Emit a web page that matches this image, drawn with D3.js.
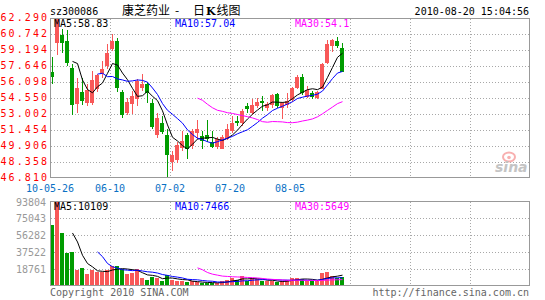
<!DOCTYPE html>
<html><head><meta charset="utf-8">
<script src="https://cdn.jsdelivr.net/npm/d3@7"></script>
<style>
body{margin:0;background:#fff}
svg text{font-family:"DejaVu Sans Mono",monospace;font-size:10px}
</style>
</head><body>
<svg id="chart" width="545" height="300"></svg>
<script>
// ---- data (59 trading days) ----
const openP  = [57.07,59.84,60.65,60.11,57.48,53.94,55.13,54.04,54.04,55.45,
                56.84,57.65,59.26,60.07,55.13,53.07,53.94,54.43,55.55,55.88,
                54.10,50.94,52.16,50.97,48.36,48.55,49.74,50.94,49.91,51.13,
                50.87,50.97,50.29,49.84,49.64,50.61,51.36,52.33,52.16,53.78,
                53.13,53.78,54.26,53.62,53.84,54.91,53.62,53.84,54.36,55.55,
                56.61,54.68,55.06,54.58,55.45,57.91,59.58,60.07,59.39];
const highP  = [58.55,62.29,61.23,61.13,57.81,56.51,56.51,55.88,57.16,56.84,
                58.13,59.75,60.71,60.38,55.32,54.58,55.23,56.36,56.84,56.10,
                54.48,53.13,52.81,51.52,49.42,50.29,51.36,51.19,51.52,52.42,
                51.36,52.42,51.36,50.81,50.94,52.01,52.81,52.81,53.46,54.04,
                54.43,54.58,54.74,54.16,54.91,55.00,54.16,55.00,55.64,56.75,
                56.84,55.71,55.23,55.23,57.97,60.16,60.23,60.48,59.87];
const lowP   = [55.95,58.71,58.90,57.60,52.88,53.13,53.84,53.78,53.84,55.13,
                56.51,57.33,59.10,55.13,52.65,52.88,52.97,53.78,55.23,54.07,
                51.52,50.71,51.04,46.84,47.49,48.29,49.42,48.62,49.59,50.55,
                49.64,50.29,49.74,49.64,49.59,50.49,51.19,51.84,51.84,53.13,
                52.88,53.62,53.29,53.29,53.62,53.62,52.55,53.62,54.16,55.45,
                54.81,54.58,54.43,54.48,55.39,57.81,59.00,59.42,57.07];
const closeP = [56.58,62.24,59.90,57.89,53.84,55.55,54.26,55.32,56.29,56.75,
                57.39,58.93,60.07,55.55,52.88,54.16,54.74,56.20,55.88,55.00,
                51.77,52.64,51.26,49.08,49.00,49.97,50.39,49.64,51.36,51.52,
                50.39,50.58,49.84,50.55,50.81,51.52,52.16,52.16,53.29,53.46,
                53.84,54.16,54.04,53.94,54.81,53.78,54.04,54.26,55.55,56.61,
                55.06,55.32,54.68,55.13,57.81,59.75,60.16,59.58,57.11];
const volume = [67740,93804,58440,36100,37220,17490,19350,12650,17490,14890,
                14890,17490,21960,21590,18240,12650,13770,18240,8190,6330,
                10050,8190,5210,11910,6330,5210,4470,3720,4470,3720,
                2600,2600,2600,3350,5210,6330,8190,6330,10790,5210,
                8190,7070,4470,4470,5210,3720,4470,6330,8930,8930,
                7440,4470,4470,4470,13770,14890,10790,8190,10050];

const priceTicks = [62.290,60.742,59.194,57.646,56.098,54.550,53.002,51.454,49.906,48.358,46.810];
const volumeTicks = [93804,75043,56282,37522,18761];
const dateTickIdx = [0,12,24,36,48];
const dateLabels = ["10-05-26","06-10","07-02","07-20","08-05"];
const gridIdx = [12,24,36,48,60,72,84];
const maPeriods = [5,10,30];
const maColors = ["#000000","#0000ff","#ff00ff"];
const priceMaLabels = ["MA5:58.83","MA10:57.04","MA30:54.1"];
const volMaLabels = ["MA5:10109","MA10:7466","MA30:5649"];
const stockCode = "sz300086";
const titleParts = [{t:"康芝药业",x:122},{t:"-",x:175},{t:"日",x:193},{t:"K",x:206,b:true},{t:"线图",x:216.5}];
const timeStamp = "2010-08-20 15:04:56";
const footLeft = "Copyright 2010 SINA.COM";
const footRight = "http://finance.sina.com.cn";

const UP = "#f85858", DOWN = "#009c00";

const svg = d3.select("#chart");
svg.append("rect").attr("width",545).attr("height",300).attr("fill","#fff");

const N = closeP.length;
const x = d3.scaleLinear().domain([0,96]).range([50,530]);
const yP = d3.scaleLinear().domain([46.81,62.29]).range([178,18]);
const yV = d3.scaleLinear().domain([0,93804]).range([285.5,201.5]);
const idx = d3.range(N);

function movingAvg(arr,n){
  return arr.map((_,i)=> i<n-1 ? null : d3.mean(arr.slice(i-n+1,i+1)));
}

// ---- grids ----
function grid(top,bottom,hVals,yScale){
  const g = svg.append("g").attr("stroke","#a8a8a8").attr("stroke-dasharray","1,2").attr("shape-rendering","crispEdges");
  g.selectAll("line.h").data(hVals).join("line")
    .attr("x1",51).attr("x2",529)
    .attr("y1",d=>Math.round(yScale(d))+0.5).attr("y2",d=>Math.round(yScale(d))+0.5);
  g.selectAll("line.v").data(gridIdx).join("line")
    .attr("x1",d=>x(d)+0.5).attr("x2",d=>x(d)+0.5)
    .attr("y1",top).attr("y2",bottom);
}
grid(19,177,priceTicks.slice(1,-1),yP);
grid(202,285,volumeTicks.slice(1),yV);

// ---- watermark ----
const wm = svg.append("g");
wm.append("ellipse").attr("cx",509).attr("cy",157).attr("rx",6).attr("ry",4.5)
  .attr("fill","none").attr("stroke","#f8b0b0").attr("stroke-width",2);
wm.append("circle").attr("cx",509).attr("cy",157.5).attr("r",1.8).attr("fill","#f8b0b0");
wm.append("text").attr("x",495).attr("y",172).text("sina")
  .style("font-family","DejaVu Sans").style("font-size","14px").style("font-style","italic").style("font-weight","bold")
  .attr("fill","#c4c4c4");

// ---- candles ----
const cg = svg.append("g").attr("shape-rendering","crispEdges");
cg.selectAll("rect.wick").data(idx).join("rect")
  .attr("x",i=>x(i)+2).attr("width",1)
  .attr("y",i=>Math.round(yP(highP[i])))
  .attr("height",i=>Math.max(1,Math.round(yP(lowP[i]))-Math.round(yP(highP[i]))))
  .attr("fill",i=>closeP[i]>=openP[i]?UP:DOWN);
cg.selectAll("rect.body").data(idx).join("rect")
  .attr("x",i=>x(i)).attr("width",4)
  .attr("y",i=>Math.round(yP(Math.max(openP[i],closeP[i]))))
  .attr("height",i=>Math.max(1,Math.round(yP(Math.min(openP[i],closeP[i])))-Math.round(yP(Math.max(openP[i],closeP[i])))))
  .attr("fill",i=>closeP[i]>=openP[i]?UP:DOWN);

// ---- volume bars ----
svg.append("g").attr("shape-rendering","crispEdges")
  .selectAll("rect").data(idx).join("rect")
  .attr("x",i=>x(i)).attr("width",4)
  .attr("y",i=>Math.round(yV(volume[i])))
  .attr("height",i=>Math.max(1,285-Math.round(yV(volume[i]))))
  .attr("fill",i=>closeP[i]>=openP[i]?UP:DOWN);

// ---- moving average lines ----
maPeriods.forEach((p,k)=>{
  const mp = movingAvg(closeP,p).map((v,i)=>({i,v})).filter(d=>d.v!==null);
  svg.append("path").datum(mp).attr("fill","none").attr("stroke",maColors[k]).attr("stroke-width",1)
    .attr("d",d3.line().x(d=>x(d.i)+2.5).y(d=>yP(d.v)));
  const mv = movingAvg(volume,p).map((v,i)=>({i,v})).filter(d=>d.v!==null);
  svg.append("path").datum(mv).attr("fill","none").attr("stroke",maColors[k]).attr("stroke-width",1)
    .attr("d",d3.line().x(d=>x(d.i)+2.5).y(d=>yV(d.v)));
});

// ---- frames ----
svg.append("rect").attr("x",50.5).attr("y",18.5).attr("width",479).attr("height",159)
  .attr("fill","none").attr("stroke","#999").attr("shape-rendering","crispEdges");
svg.append("rect").attr("x",50.5).attr("y",201.5).attr("width",479).attr("height",84)
  .attr("fill","none").attr("stroke","#999").attr("shape-rendering","crispEdges");

// ---- axis labels ----
svg.append("g").selectAll("text").data(priceTicks).join("text")
  .attr("x",0.5).attr("y",d=>yP(d)+3.3)
  .attr("textLength",46.5).attr("lengthAdjust","spacing")
  .attr("fill","#ff0000").text(d=>d.toFixed(3));
svg.append("g").selectAll("text").data(volumeTicks).join("text")
  .attr("x",46).attr("y",d=>Math.round(yV(d))+3.8).attr("text-anchor","end")
  .attr("fill","#999").text(d=>d);
svg.append("g").selectAll("text").data(dateTickIdx).join("text")
  .attr("x",d=>x(d)).attr("y",192).attr("text-anchor","middle")
  .attr("fill","#0a70c4").text((d,k)=>dateLabels[k]);

// ---- MA legends ----
const legX = [54,175,295];
svg.append("g").selectAll("text").data(priceMaLabels).join("text")
  .attr("x",(d,k)=>legX[k]).attr("y",27).attr("fill",(d,k)=>maColors[k]).text(d=>d);
svg.append("g").selectAll("text").data(volMaLabels).join("text")
  .attr("x",(d,k)=>legX[k]).attr("y",210).attr("fill",(d,k)=>maColors[k]).text(d=>d);

// ---- titles ----
svg.append("text").attr("x",50).attr("y",15).attr("fill","#000").text(stockCode);
const tt = svg.append("text").attr("y",14.5).attr("fill","#000")
  .style("font-family","'Noto Sans CJK SC','DejaVu Sans',sans-serif").style("font-size","12px");
titleParts.forEach(p=>{
  const s = tt.append("tspan").attr("x",p.x).text(p.t);
  if(p.b) s.style("font-weight","bold").style("font-family","'DejaVu Serif',serif").style("font-size","11px");
});
svg.append("text").attr("x",529).attr("y",15).attr("text-anchor","end").attr("fill","#000").text(timeStamp);
svg.append("text").attr("x",50).attr("y",295.5).attr("fill","#666").text(footLeft);
svg.append("text").attr("x",529).attr("y",295.5).attr("text-anchor","end").attr("fill","#666").text(footRight);
</script>
</body></html>
